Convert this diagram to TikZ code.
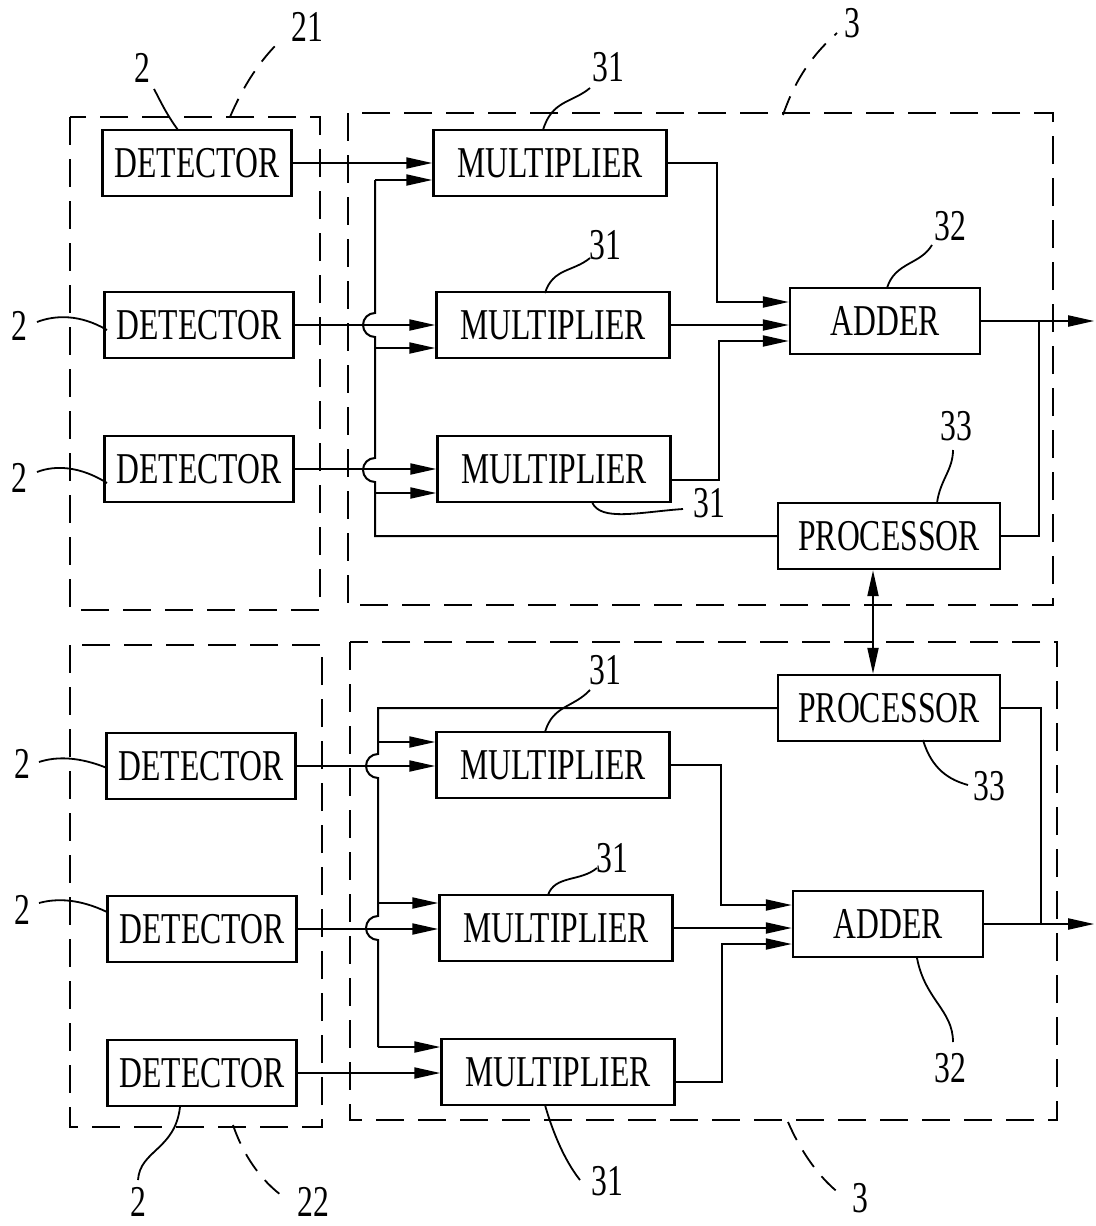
\documentclass[tikz,border=0pt]{standalone}
\usepackage{fontspec}
\setmainfont[FakeStretch=0.72]{Liberation Serif}
\usetikzlibrary{arrows.meta,calc}
\tikzset{
  blk/.style={draw,line width=1.2pt,minimum height=33pt,inner sep=0pt,font=\fontsize{22}{24}\selectfont},
  grp/.style={draw,line width=0.9pt,dash pattern=on 14pt off 7pt},
  lead/.style={line width=0.9pt},
  dlead/.style={line width=0.9pt,dash pattern=on 10pt off 6pt},
  num/.style={font=\fontsize{22}{24}\selectfont,inner sep=0pt},
}
\begin{document}
\begin{tikzpicture}[x=0.5pt,y=-0.5pt,line width=1pt,>={Triangle[length=13pt,width=5.5pt]}]%pixel grid
\useasboundingbox (0,0) rectangle (1096,1226);
% groups
\draw[grp] (70,117) rectangle (320,610);
\draw[grp] (348,113) rectangle (1053,605);
\draw[grp] (70,645) rectangle (322,1127);
\draw[grp] (350,642) rectangle (1057,1120);
% blocks
\foreach \n/\x/\y in {D1/197/163,D2/199/325,D3/199/469,D4/201/766,D5/202/929,D6/202/1073}
  \node[blk,minimum width=94.5pt] (\n) at (\x,\y) {DETECTOR};
\foreach \n/\x/\y in {M1/550/163,M2/553/325,M3/554/469,M4/553/765,M5/556/928,M6/558/1072}
  \node[blk,minimum width=116.5pt] (\n) at (\x,\y) {MULTIPLIER};
\node[blk,minimum width=95pt] (A1) at (885,321) {ADDER};
\node[blk,minimum width=95pt] (A2) at (888,924) {ADDER};
\node[blk,minimum width=111pt] (P1) at (889,536) {PROCESSOR};
\node[blk,minimum width=111pt] (P2) at (889,708) {PROCESSOR};
% detector -> multiplier
\foreach \i in {1,...,6}
  \draw[->] (D\i.east) -- (D\i.east -| M\i.west);
% processor busses, with jumps
\draw (375,180) -- (375,313) arc[start angle=270,end angle=90,radius=12]
  -- (375,458) arc[start angle=270,end angle=90,radius=12] |- (P1.west);
\draw[->] (375,180) -- (375,180 -| M1.west);
\draw[->] (375,348) -- (375,348 -| M2.west);
\draw[->] (375,493) -- (375,493 -| M3.west);
\draw (P2.west) -| (378,754) arc[start angle=270,end angle=90,radius=12]
  -- (378,916) arc[start angle=270,end angle=90,radius=12] -- (378,1047);
\draw[->] (378,742) -- (378,742 -| M4.west);
\draw[->] (378,903) -- (378,903 -| M5.west);
\draw[->] (378,1047) -- (378,1047 -| M6.west);
% multiplier -> adder
\draw[->] (M1.east) -| (717,302) -- (717,302 -| A1.west);
\draw[->] (M2.east) -- (M2.east -| A1.west);
\draw[->] ($(M3.east)+(0,11)$) -| (719,341) -- (719,341 -| A1.west);
\draw[->] (M4.east) -| (721,905) -- (721,905 -| A2.west);
\draw[->] (M5.east) -- (M5.east -| A2.west);
\draw[->] ($(M6.east)+(0,10)$) -| (722,944) -- (722,944 -| A2.west);
% outputs
\draw[->] (A1.east) -- ++(113,0);
\draw (P1.east) -| ($(A1.east)+(58,0)$);
\draw[->] (A2.east) -- ++(110,0);
\draw (P2.east) -| ($(A2.east)+(57,0)$);
\draw[<->] ([xshift=-8pt]P1.south) -- ([xshift=-8pt]P2.north);
% reference numerals
\node[num] (l21) at (307,27) {21};
\node[num] (l2a) at (142,68) {2};
\node[num] (l3a) at (852,23) {3};
\node[num] (l31a) at (608,67) {31};
\node[num] (l31b) at (605,245) {31};
\node[num] (l32a) at (950,226) {32};
\node[num] (l33a) at (956,426) {33};
\node[num] (l31c) at (709,503) {31};
\node[num] (l2b) at (19,326) {2};
\node[num] (l2c) at (19,478) {2};
\node[num] (l31d) at (605,670) {31};
\node[num] (l33b) at (989,786) {33};
\node[num] (l2d) at (22,764) {2};
\node[num] (l2e) at (22,910) {2};
\node[num] (l31e) at (612,858) {31};
\node[num] (l32b) at (950,1068) {32};
\node[num] (l31f) at (607,1181) {31};
\node[num] (l3b) at (860,1198) {3};
\node[num] (l2f) at (138,1202) {2};
\node[num] (l22) at (313,1202) {22};
% leaders
\draw[lead] (178,130) .. controls (165,112) and (160,100) .. (154,89);
\draw[dlead] (230,117) .. controls (245,82) and (262,58) .. (283,38);
\draw[dlead] (783,115) .. controls (795,80) and (812,55) .. (837,33);
\draw[lead] (543,130) .. controls (552,100) and (572,103) .. (590,88);
\draw[lead] (545,293) .. controls (553,268) and (573,272) .. (590,258);
\draw[lead] (887,288) .. controls (895,262) and (920,265) .. (932,245);
\draw[lead] (937,503) .. controls (940,480) and (953,470) .. (953,450);
\draw[lead] (592,502) .. controls (600,522) and (640,512) .. (683,509);
\draw[lead] (37,322) .. controls (55,315) and (80,314) .. (107,330);
\draw[lead] (37,472) .. controls (55,465) and (80,466) .. (107,483);
\draw[lead] (39,762) .. controls (57,756) and (80,757) .. (107,768);
\draw[lead] (39,903) .. controls (57,898) and (80,899) .. (107,912);
\draw[lead] (545,732) .. controls (553,705) and (573,708) .. (590,690);
\draw[lead] (923,740) .. controls (932,770) and (950,780) .. (968,785);
\draw[lead] (548,895) .. controls (555,875) and (580,882) .. (597,868);
\draw[lead] (917,958) .. controls (925,1000) and (953,1010) .. (953,1042);
\draw[lead] (545,1105) .. controls (555,1140) and (568,1165) .. (580,1180);
\draw[dlead] (788,1122) .. controls (800,1150) and (820,1180) .. (843,1196);
\draw[lead] (180,1107) .. controls (175,1150) and (140,1150) .. (138,1180);
\draw[dlead] (233,1125) .. controls (245,1160) and (265,1185) .. (288,1200);
\end{tikzpicture}
\end{document}
